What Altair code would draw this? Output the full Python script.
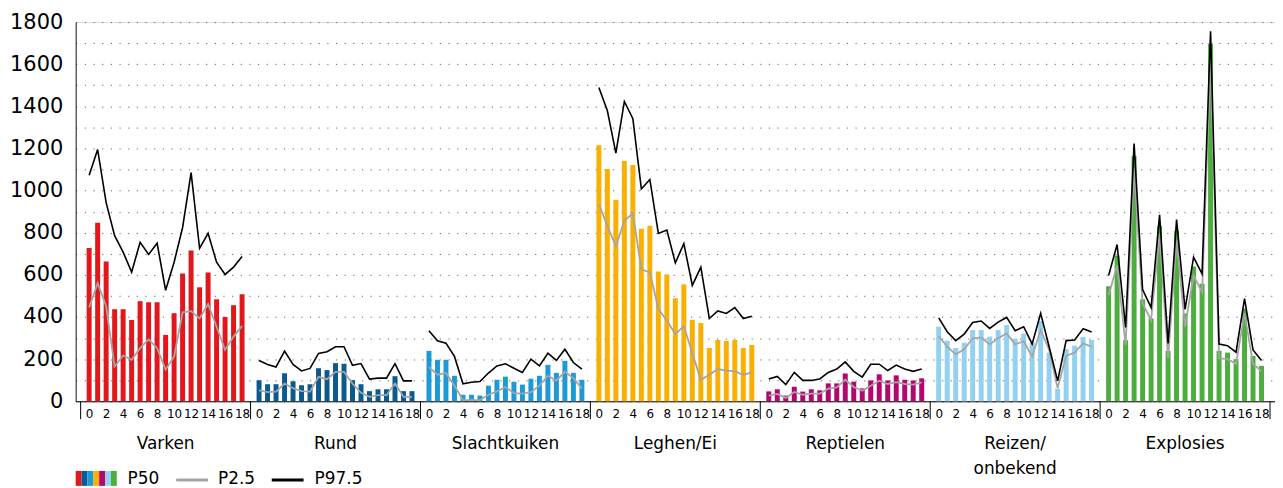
import altair as alt
import pandas as pd

# ---------------- data ----------------
groups = ["Varken", "Rund", "Slachtkuiken", "Leghen/Ei", "Reptielen", "Reizen/\nonbekend", "Explosies"]
colors = ["#e3171b", "#0b5a8f", "#1b9ad8", "#fbb000", "#b5056e", "#93d1f1", "#4cae3c"]
hours = list(range(19))

p50_varken = [728, 848, 664, 437, 437, 386, 475, 470, 470, 315, 418, 607, 716, 541, 611, 484, 400, 456, 508]
p025_varken = [445, 561, 451, 165, 217, 197, 252, 294, 252, 150, 212, 422, 428, 393, 461, 354, 244, 307, 358]
p975_varken = [1073, 1195, 943, 786, 708, 613, 755, 697, 750, 527, 660, 825, 1085, 726, 797, 660, 602, 637, 687]

p50_rund = [100, 81, 81, 133, 95, 76, 81, 157, 148, 181, 178, 100, 81, 48, 57, 57, 119, 48, 48]
p025_rund = [52, 43, 46, 84, 62, 48, 46, 116, 105, 140, 140, 84, 40, 21, 29, 29, 84, 21, 21]
p975_rund = [194, 175, 163, 238, 175, 144, 156, 227, 235, 259, 259, 171, 179, 105, 110, 110, 179, 97, 97]

p50_kuiken = [239, 197, 197, 121, 31, 31, 27, 74, 102, 117, 93, 79, 107, 121, 173, 135, 192, 135, 102]
p025_kuiken = [162, 126, 134, 74, 5, 5, 5, 31, 47, 68, 39, 36, 43, 74, 121, 98, 140, 110, 60]
p975_kuiken = [335, 287, 276, 213, 83, 90, 94, 134, 168, 178, 157, 137, 200, 168, 228, 194, 247, 184, 153]

p50_leghen = [1215, 1102, 956, 1140, 1121, 819, 833, 616, 602, 489, 555, 387, 371, 253, 291, 286, 291, 253, 267]
p025_leghen = [936, 833, 736, 857, 892, 626, 612, 439, 382, 319, 357, 228, 102, 126, 153, 145, 142, 126, 137]
p975_leghen = [1489, 1379, 1178, 1423, 1341, 1008, 1053, 797, 813, 657, 748, 550, 637, 393, 429, 417, 445, 393, 404]

p50_rept = [47, 57, 27, 69, 46, 57, 52, 85, 85, 132, 93, 61, 99, 128, 99, 123, 102, 99, 109]
p025_rept = [27, 35, 16, 44, 31, 36, 36, 60, 66, 102, 68, 50, 74, 98, 82, 91, 82, 79, 90]
p975_rept = [106, 118, 79, 137, 99, 99, 106, 137, 153, 187, 142, 115, 176, 176, 146, 172, 153, 142, 153]

p50_reizen = [354, 288, 253, 278, 338, 338, 307, 338, 362, 297, 321, 278, 381, 231, 60, 248, 264, 305, 291]
p025_reizen = [310, 259, 223, 247, 299, 303, 270, 299, 322, 270, 285, 212, 338, 244, 63, 215, 231, 275, 259]
p975_reizen = [396, 330, 288, 319, 374, 381, 346, 376, 398, 335, 354, 272, 417, 259, 97, 288, 291, 344, 329]

p50_expl = [546, 692, 290, 1164, 484, 393, 833, 239, 810, 417, 640, 558, 1698, 239, 231, 200, 440, 215, 168]
p025_expl = [503, 645, 267, 1108, 464, 385, 794, 204, 763, 354, 597, 519, 1627, 204, 200, 178, 417, 178, 142]
p975_expl = [597, 744, 350, 1223, 530, 445, 885, 275, 862, 436, 684, 605, 1756, 272, 264, 233, 487, 244, 193]

p50_all = [p50_varken, p50_rund, p50_kuiken, p50_leghen, p50_rept, p50_reizen, p50_expl]
p025_all = [p025_varken, p025_rund, p025_kuiken, p025_leghen, p025_rept, p025_reizen, p025_expl]
p975_all = [p975_varken, p975_rund, p975_kuiken, p975_leghen, p975_rept, p975_reizen, p975_expl]

legend_labels = ["P50", "P2.5", "P97.5"]

# ---------------- tables ----------------
SLOTS = 20  # x units per group
rows = []
for g, grp in enumerate(groups):
    for h in hours:
        rows.append({"group": grp, "gidx": g, "hour": h,
                     "pos": g * SLOTS + h + 1,
                     "p50": p50_all[g][h], "p025": p025_all[g][h], "p975": p975_all[g][h]})
df = pd.DataFrame(rows)

grp_df = pd.DataFrame({"group": groups, "gidx": list(range(len(groups)))})
grp_df["center"] = grp_df["gidx"] * SLOTS + SLOTS / 2
div_df = pd.DataFrame({"edge": [g * SLOTS for g in range(len(groups) + 1)]})

FONT = "DejaVu Sans"
W, H = 1205, 381
xmax = len(groups) * SLOTS
xscale = alt.Scale(domain=[0, xmax], nice=False, zero=False)
yscale = alt.Scale(domain=[0, 1800], nice=False)
cscale = alt.Scale(domain=groups, range=colors)

xticks = [g * SLOTS + h + 1 for g in range(len(groups)) for h in hours if h % 2 == 0]

XAXIS = alt.Axis(values=xticks, labelExpr="(datum.value - 1) % 20", title=None,
                 grid=False, ticks=False, labelFontSize=12, labelPadding=7,
                 labelColor="#000", labelFont=FONT, domainColor="#000",
                 labelOverlap=False, labelFlush=False, labelBound=False,
                 labelSeparation=0)
YAXIS = alt.Axis(values=list(range(0, 1900, 100)), format="d",
                 labelExpr="datum.value % 200 == 0 ? datum.label : ''",
                 title=None, grid=True, gridDash=[1.2, 7.5], gridColor="#666",
                 gridWidth=1, ticks=False, labelFontSize=21, labelPadding=13,
                 labelColor="#000", labelFont=FONT, domainColor="#222",
                 labelOverlap=False)

bars = alt.Chart(df).mark_bar(width=5).encode(
    x=alt.X("pos:Q", scale=xscale, axis=XAXIS),
    y=alt.Y("p50:Q", scale=yscale, axis=YAXIS),
    color=alt.Color("group:N", scale=cscale, legend=None),
)

line_lo = alt.Chart(df).mark_line(color="#a5a5a5", strokeWidth=1.8).encode(
    x=alt.X("pos:Q", scale=xscale, axis=XAXIS),
    y=alt.Y("p025:Q", scale=yscale, axis=YAXIS), detail="group:N")
line_hi = alt.Chart(df).mark_line(color="#000000", strokeWidth=1.6).encode(
    x=alt.X("pos:Q", scale=xscale, axis=XAXIS),
    y=alt.Y("p975:Q", scale=yscale, axis=YAXIS), detail="group:N")

dividers = alt.Chart(div_df).mark_rule(color="#000", strokeWidth=1).encode(
    x=alt.X("edge:Q", scale=xscale, axis=XAXIS), y=alt.value(H), y2=alt.value(H + 18))

glabels = alt.Chart(grp_df).mark_text(font=FONT, fontSize=17, baseline="alphabetic",
                                      align="center", lineBreak="\n", lineHeight=25,
                                      color="#000").encode(
    x=alt.X("center:Q", scale=xscale, axis=XAXIS), y=alt.value(429), text="group:N")

# ---------------- legend (decoration) ----------------
sw_df = pd.DataFrame({"group": groups, "i": list(range(len(groups)))})
swatch = alt.Chart(sw_df).transform_calculate(
    lx="datum.i * 5.9", lx2="datum.i * 5.9 + 5.9").mark_rect().encode(
    x=alt.X("lx:Q", scale=None), x2="lx2:Q", y=alt.value(451), y2=alt.value(466),
    color=alt.Color("group:N", scale=cscale, legend=None))

def ltext(label, xpos):
    return alt.Chart(pd.DataFrame({"t": [label]})).mark_text(
        font=FONT, fontSize=17, align="left", baseline="middle", color="#000").encode(
        x=alt.value(xpos), y=alt.value(459), text="t:N")

leg_lo = alt.Chart(pd.DataFrame({"t": [legend_labels[1]]})).mark_rule(
    color="#a5a5a5", strokeWidth=3).encode(x=alt.value(101), x2=alt.value(133), y=alt.value(460))
leg_hi = alt.Chart(pd.DataFrame({"t": [legend_labels[2]]})).mark_rule(
    color="#000", strokeWidth=3).encode(x=alt.value(197), x2=alt.value(229), y=alt.value(460))

chart = alt.layer(
    bars, line_lo, line_hi, dividers, glabels,
    swatch, ltext(legend_labels[0], 52), leg_lo, ltext(legend_labels[1], 143),
    leg_hi, ltext(legend_labels[2], 240),
).properties(
    width=W, height=H,
    autosize=alt.AutoSizeParams(type="none"),
    padding={"left": 68, "top": 13, "right": 0, "bottom": 86},
).configure_view(stroke=None).configure(font=FONT)

chart.save("out.html", embed_options={"renderer": "svg", "actions": False})
